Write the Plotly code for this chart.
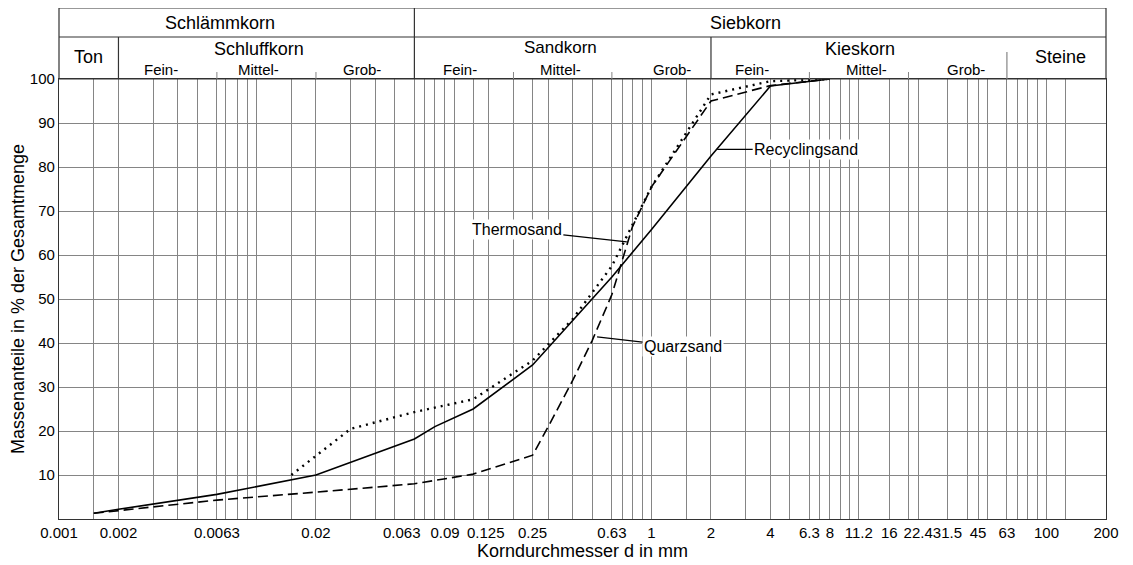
import numpy as np
import plotly.graph_objects as go

# ---------------- data ----------------
recyc_d = [0.0015, 0.002, 0.0063, 0.015, 0.02, 0.063, 0.08, 0.125, 0.25, 0.63, 1, 2, 4, 8]
recyc_p = [1.3, 2.2, 5.6, 9.0, 10.0, 18.2, 21.0, 25.0, 35.0, 55.0, 65.8, 82.5, 98.4, 100.0]

thermo_d = [0.015, 0.03, 0.063, 0.125, 0.25, 0.4, 0.63, 1, 2, 4, 8]
thermo_p = [10.0, 20.5, 24.3, 27.2, 36.0, 45.5, 57.5, 75.5, 96.5, 99.5, 100.0]

quarz_d = [0.0015, 0.0063, 0.02, 0.063, 0.125, 0.25, 0.3, 0.4, 0.5, 0.63, 0.8, 1, 2, 4, 8]
quarz_p = [1.3, 4.3, 6.1, 8.0, 10.2, 14.5, 21.0, 31.6, 40.5, 51.0, 66.4, 75.5, 95.0, 98.5, 100.0]

grid_vals = [0.001, 0.0015, 0.002, 0.003, 0.004, 0.005, 0.0063, 0.007, 0.008, 0.009, 0.01,
             0.015, 0.02, 0.03, 0.04, 0.05, 0.063, 0.071, 0.08, 0.09, 0.1,
             0.125, 0.15, 0.2, 0.25, 0.3, 0.4, 0.5, 0.63, 0.71, 0.8, 0.9, 1,
             1.5, 2, 3, 4, 5, 6.3, 7.1, 8, 9, 10, 11.2, 16, 20, 22.4, 31.5, 40, 45, 50,
             63, 71, 80, 90, 100, 125, 200]
tick_labels = {0.001: "0.001", 0.002: "0.002", 0.0063: "0.0063", 0.02: "0.02",
               0.09: "0.09", 0.25: "0.25",
               0.63: "0.63", 1: "1", 2: "2", 4: "4", 6.3: "6.3", 8: "8", 11.2: "11.2",
               16: "16", 22.4: "22.4", 31.5: "31.5", 45: "45", 63: "63", 100: "100", 200: "200"}
# crowded tick labels drawn as shifted annotations: (value, text, shift px)
crowded_ticks = [(0.063, "0.063", -12), (0.125, "0.125", 13)]
y_ticks = [10, 20, 30, 40, 50, 60, 70, 80, 90, 100]

# class boundaries (mm)
main_split = 0.063          # Schlämmkorn | Siebkorn
group_splits = [0.002, 2]   # Ton|Schluff, Sand|Kies
stone_split = 63            # Kies|Steine
sub_splits = [0.0063, 0.02, 0.2, 0.63, 6.3, 20]

# ---------------- layout constants ----------------
SCREEN_W, SCREEN_H = 1133, 565
OFF = 8                       # page body margin of the browser
W, H = SCREEN_W - OFF, SCREEN_H - OFF
L, R, T, B = 59, 1106, 79, 519   # plot area in screen pixels
FONT = "Liberation Sans, Arial, sans-serif"
TICK_FS = 15

def px(xp):
    return (xp - L) / (R - L)

def py(yp):
    return (B - yp) / (B - T)

fig = go.Figure()
fig.add_trace(go.Scatter(x=recyc_d, y=recyc_p, mode="lines", name="Recyclingsand",
                         line=dict(color="black", width=1.6)))
fig.add_trace(go.Scatter(x=thermo_d, y=thermo_p, mode="lines", name="Thermosand",
                         line=dict(color="black", width=2.4, dash="2px,5px")))
fig.add_trace(go.Scatter(x=quarz_d, y=quarz_p, mode="lines", name="Quarzsand",
                         line=dict(color="black", width=1.6, dash="10px,5px")))

fig.update_xaxes(type="log", range=[np.log10(0.001), np.log10(200)],
                 tickmode="array", tickvals=grid_vals,
                 ticktext=[tick_labels.get(v, "") for v in grid_vals],
                 tickangle=0, showgrid=True, gridcolor="#858585", gridwidth=1,
                 showline=True, linecolor="#333333", linewidth=1.2, mirror=True,
                 ticks="", zeroline=False, automargin=False,
                 tickfont=dict(family=FONT, size=TICK_FS, color="black"),
                 title=dict(text="Korndurchmesser d in mm", standoff=3,
                            font=dict(family=FONT, size=18, color="black")))
fig.update_yaxes(range=[0, 100], tickmode="array", tickvals=y_ticks,
                 showgrid=True, gridcolor="#858585", gridwidth=1,
                 showline=True, linecolor="#333333", linewidth=1.2, mirror=True,
                 ticks="", zeroline=False, automargin=False,
                 tickfont=dict(family=FONT, size=TICK_FS, color="black"),
                 title=dict(text="Massenanteile in % der Gesamtmenge", standoff=4,
                            font=dict(family=FONT, size=18, color="black")))

shapes = []
lc = "#333333"
y_top = py(8)
y_row = py(37)
# header box
shapes.append(dict(type="rect", xref="paper", yref="paper", x0=0, x1=1, y0=1, y1=y_top,
                   line=dict(color=lc, width=1.2)))
shapes.append(dict(type="line", xref="paper", yref="paper", x0=0, x1=1, y0=y_row, y1=y_row,
                   line=dict(color=lc, width=1.2)))
shapes.append(dict(type="line", xref="x", yref="paper", x0=main_split, x1=main_split,
                   y0=1, y1=y_top, line=dict(color=lc, width=1.2)))
for g in group_splits:
    shapes.append(dict(type="line", xref="x", yref="paper", x0=g, x1=g, y0=1, y1=y_row,
                       line=dict(color=lc, width=1.2)))
shapes.append(dict(type="line", xref="x", yref="paper", x0=stone_split, x1=stone_split,
                   y0=1, y1=py(52), line=dict(color="#858585", width=1.2)))
for s in sub_splits:
    shapes.append(dict(type="line", xref="x", yref="paper", x0=s, x1=s, y0=1, y1=py(72),
                       line=dict(color="#858585", width=1)))
fig.update_layout(shapes=shapes)

header = [("Schlämmkorn", 220, 23, 18), ("Siebkorn", 745, 23, 18),
          ("Ton", 88, 57, 18), ("Schluffkorn", 259, 49, 18),
          ("Fein-", 161, 70, 15), ("Mittel-", 258, 70, 15), ("Grob-", 362, 70, 15),
          ("Sandkorn", 560, 48, 17),
          ("Fein-", 460, 70, 15), ("Mittel-", 560, 70, 15), ("Grob-", 672, 70, 15),
          ("Kieskorn", 860, 49, 18),
          ("Fein-", 752, 70, 15), ("Mittel-", 866, 70, 15), ("Grob-", 966, 70, 15),
          ("Steine", 1060, 57, 18)]
ann = []
for text, xp, yp, fs in header:
    ann.append(dict(text=text, xref="paper", yref="paper", x=px(xp), y=py(yp),
                    xanchor="center", yanchor="middle", showarrow=False,
                    font=dict(family=FONT, size=fs, color="black")))

for val, text, shift in crowded_ticks:
    ann.append(dict(text=text, xref="x", yref="y", x=np.log10(val), y=0,
                    xanchor="center", yanchor="top", xshift=shift, yshift=-3,
                    showarrow=False, font=dict(family=FONT, size=TICK_FS, color="black")))

# curve labels with leader lines
labels = [("Recyclingsand", 2.15, 84.0, 89, 0),
          ("Thermosand", 0.75, 63.0, -110, -12),
          ("Quarzsand", 0.53, 41.4, 86, 10)]
for text, xd, yd, axp, ayp in labels:
    ann.append(dict(text=text, xref="x", yref="y", x=np.log10(xd), y=yd,
                    ax=axp, ay=ayp, showarrow=True, arrowhead=0, arrowwidth=1.2,
                    arrowcolor="black", bgcolor="white", borderpad=1,
                    font=dict(family=FONT, size=16, color="black")))
fig.update_layout(annotations=ann)

fig.update_layout(width=W, height=H,
                  margin=dict(l=L - OFF, r=W - (R - OFF), t=T - OFF, b=H - (B - OFF)),
                  paper_bgcolor="white", plot_bgcolor="white", showlegend=False,
                  font=dict(family=FONT, color="black"))
fig.write_html("out.html")
